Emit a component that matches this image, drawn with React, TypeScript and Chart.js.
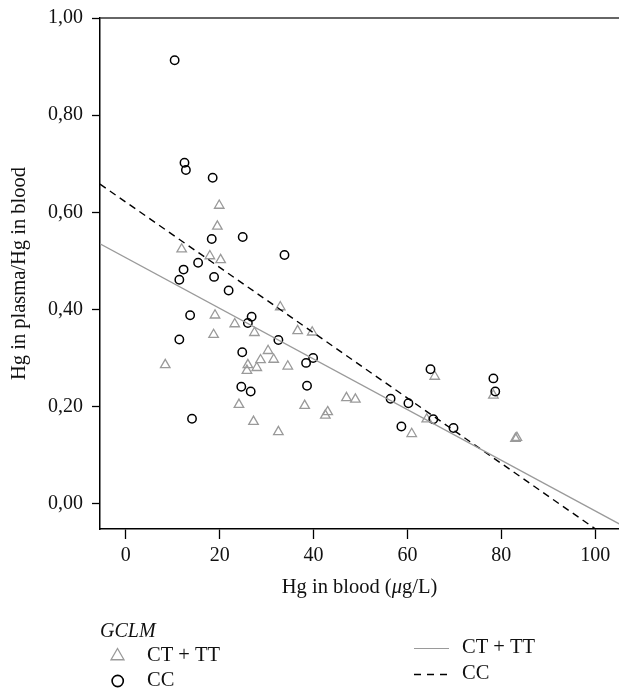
import React, { useEffect, useRef } from 'react';
import { Chart, registerables } from 'chart.js';

Chart.register(...registerables);

// GCLM CT + TT (triangles)
const ctttX = [19.9, 19.5, 11.9, 17.9, 20.2, 32.9, 19.0, 23.2, 27.4, 36.6, 39.7, 18.7, 30.3, 28.7, 31.5, 26.0, 27.9, 25.8, 34.5, 8.4, 24.1, 38.1, 47.0, 48.9, 43.0, 42.5, 27.2, 32.5, 65.8, 78.3, 64.1, 60.9, 83.0, 83.3];
const ctttY = [0.614, 0.571, 0.524, 0.510, 0.502, 0.405, 0.388, 0.370, 0.352, 0.356, 0.353, 0.348, 0.315, 0.296, 0.297, 0.286, 0.280, 0.274, 0.283, 0.286, 0.204, 0.202, 0.218, 0.215, 0.189, 0.182, 0.169, 0.148, 0.262, 0.223, 0.174, 0.144, 0.134, 0.136];

// GCLM CC (circles)
const ccX = [10.4, 12.5, 12.8, 18.5, 18.3, 24.9, 33.8, 12.3, 11.4, 15.4, 18.8, 21.9, 13.7, 26.8, 26.0, 11.4, 32.5, 24.8, 38.4, 39.9, 24.6, 26.6, 38.6, 14.1, 64.9, 78.3, 78.7, 56.4, 60.2, 65.5, 69.8, 58.7];
const ccY = [0.913, 0.702, 0.687, 0.671, 0.545, 0.549, 0.512, 0.482, 0.461, 0.496, 0.467, 0.439, 0.388, 0.385, 0.372, 0.338, 0.337, 0.312, 0.290, 0.300, 0.241, 0.231, 0.243, 0.175, 0.277, 0.258, 0.231, 0.216, 0.207, 0.174, 0.156, 0.159];

// Regression lines (end points)
const ctttLineX = [-5.5, 105.2];
const ctttLineY = [0.535, -0.042];
const ccLineX = [-5.5, 100.5];
const ccLineY = [0.658, -0.055];

const xTicks = [0, 20, 40, 60, 80, 100];
const xTickLabels = ['0', '20', '40', '60', '80', '100'];
const yTicks = [0, 0.2, 0.4, 0.6, 0.8, 1.0];

const xTitle = 'Hg in blood (';
const xTitleMu = 'μ';
const xTitleEnd = 'g/L)';
const yTitle = 'Hg in plasma/Hg in blood';
const legendTitle = 'GCLM';
const seriesNames = ['CT + TT', 'CC'];

const FONT = '"Liberation Serif", "Times New Roman", serif';
const GRAY = '#9a9a9a';
const W = 619;
const H = 692;

const zip = (xs: number[], ys: number[]) => xs.map((x, i) => ({ x, y: ys[i] }));

const textPlugin = {
  id: 'textPlugin',
  afterDraw(chart: any) {
    const { ctx, chartArea } = chart;
    const { left, right, top, bottom } = chartArea;
    const xs = chart.scales.x;
    ctx.save();
    // top border
    ctx.strokeStyle = '#333';
    ctx.lineWidth = 1.5;
    ctx.beginPath();
    ctx.moveTo(left, top);
    ctx.lineTo(right, top);
    ctx.stroke();

    ctx.fillStyle = '#111';
    ctx.textBaseline = 'middle';

    // x tick labels
    ctx.font = `20px ${FONT}`;
    ctx.textAlign = 'center';
    xTicks.forEach((v, i) => {
      ctx.fillText(xTickLabels[i], xs.getPixelForValue(v), bottom + 27);
    });

    // y title
    ctx.save();
    ctx.translate(20, (top + bottom) / 2);
    ctx.rotate(-Math.PI / 2);
    ctx.font = `20.5px ${FONT}`;
    ctx.textAlign = 'center';
    ctx.fillText(yTitle, 0, 0);
    ctx.restore();

    // x title with italic mu
    const cx = (left + Math.min(right, W)) / 2;
    const ty = 588;
    ctx.font = `20.5px ${FONT}`;
    const w1 = ctx.measureText(xTitle).width;
    const w3 = ctx.measureText(xTitleEnd).width;
    ctx.font = `italic 20.5px ${FONT}`;
    const w2 = ctx.measureText(xTitleMu).width;
    let sx = cx - (w1 + w2 + w3) / 2;
    ctx.textAlign = 'left';
    ctx.font = `20.5px ${FONT}`;
    ctx.fillText(xTitle, sx, ty);
    sx += w1;
    ctx.font = `italic 20.5px ${FONT}`;
    ctx.fillText(xTitleMu, sx, ty);
    sx += w2;
    ctx.font = `20.5px ${FONT}`;
    ctx.fillText(xTitleEnd, sx, ty);

    // left legend
    ctx.font = `italic 20px ${FONT}`;
    ctx.fillText(legendTitle, 100, 632);
    ctx.font = `20.5px ${FONT}`;
    ctx.fillText(seriesNames[0], 147, 656);
    ctx.fillText(seriesNames[1], 147, 681);
    // triangle marker
    ctx.strokeStyle = GRAY;
    ctx.lineWidth = 1.3;
    const tr = 7.5;
    const tcx = 117.5, tcy = 656;
    ctx.beginPath();
    ctx.moveTo(tcx, tcy - tr);
    ctx.lineTo(tcx + tr * 0.866, tcy + tr * 0.5);
    ctx.lineTo(tcx - tr * 0.866, tcy + tr * 0.5);
    ctx.closePath();
    ctx.stroke();
    // circle marker
    ctx.strokeStyle = '#000';
    ctx.lineWidth = 1.6;
    ctx.beginPath();
    ctx.arc(117.7, 681, 5.6, 0, Math.PI * 2);
    ctx.stroke();

    // right legend
    ctx.fillStyle = '#111';
    ctx.fillText(seriesNames[0], 462, 648);
    ctx.fillText(seriesNames[1], 462, 674);
    ctx.strokeStyle = GRAY;
    ctx.lineWidth = 1.2;
    ctx.beginPath();
    ctx.moveTo(414, 648.5);
    ctx.lineTo(449, 648.5);
    ctx.stroke();
    ctx.strokeStyle = '#000';
    ctx.lineWidth = 1.3;
    ctx.setLineDash([7, 6]);
    ctx.beginPath();
    ctx.moveTo(414, 674.5);
    ctx.lineTo(449, 674.5);
    ctx.stroke();
    ctx.restore();
  },
};

export default function App() {
  const canvasRef = useRef<HTMLCanvasElement | null>(null);

  useEffect(() => {
    if (!canvasRef.current) return;
    const chart = new Chart(canvasRef.current, {
      type: 'scatter',
      data: {
        datasets: [
          {
            label: 'CT + TT line',
            type: 'line',
            data: zip(ctttLineX, ctttLineY),
            borderColor: GRAY,
            borderWidth: 1.3,
            pointRadius: 0,
            fill: false,
          } as any,
          {
            label: 'CC line',
            type: 'line',
            data: zip(ccLineX, ccLineY),
            borderColor: '#000',
            borderWidth: 1.4,
            borderDash: [7, 5],
            pointRadius: 0,
            fill: false,
          } as any,
          {
            label: 'CC',
            data: zip(ccX, ccY),
            pointStyle: 'circle',
            pointRadius: 4.2,
            borderColor: '#000',
            borderWidth: 1.5,
            backgroundColor: 'rgba(0,0,0,0)',
          },
          {
            label: 'CT + TT',
            data: zip(ctttX, ctttY),
            pointStyle: 'triangle',
            pointRadius: 5.5,
            borderColor: GRAY,
            borderWidth: 1.3,
            backgroundColor: 'rgba(0,0,0,0)',
          },
        ],
      },
      options: {
        animation: false,
        responsive: false,
        maintainAspectRatio: false,
        devicePixelRatio: 1,
        layout: { padding: { top: 18, left: 0, right: 0, bottom: 0 } },
        plugins: {
          legend: { display: false },
          tooltip: { enabled: false },
        },
        scales: {
          x: {
            type: 'linear',
            min: -5.5,
            max: 105.1,
            afterFit: (s: any) => { s.height = 163; s.paddingLeft = 0; s.paddingRight = 0; },
            afterBuildTicks: (s: any) => { s.ticks = xTicks.map((v) => ({ value: v })); },
            ticks: {
              display: false,
              includeBounds: false,
              stepSize: 20,
            },
            grid: { drawOnChartArea: false, drawTicks: true, tickLength: 10, color: '#000', tickWidth: 1.3 },
            border: { color: '#000', width: 1.5 },
          },
          y: {
            type: 'linear',
            min: -0.052,
            max: 1.0,
            afterFit: (s: any) => { s.width = 100; s.paddingTop = 0; s.paddingBottom = 0; },
            afterBuildTicks: (s: any) => { s.ticks = yTicks.map((v) => ({ value: v })); },
            ticks: {
              includeBounds: false,
              stepSize: 0.2,
              color: '#111',
              font: { family: FONT, size: 20 },
              padding: 9,
              callback: (v: any) => Number(v).toFixed(2).replace('.', ','),
            },
            grid: { drawOnChartArea: false, tickLength: 8, color: '#000', tickWidth: 1.3 },
            border: { color: '#000', width: 1.5 },
          },
        },
      },
      plugins: [textPlugin],
    });
    // make the plot area reach the right edge of the figure (canvas is clipped by the outer box)
    let cw = W;
    for (let k = 0; k < 4; k++) {
      const gap = W - chart.chartArea.right;
      if (Math.abs(gap) < 0.5) break;
      cw += gap;
      chart.resize(Math.round(cw), H);
    }
    return () => chart.destroy();
  }, []);

  return (
    <div style={{ position: 'absolute', left: 0, top: 0, width: W, height: H, background: '#fff', overflow: 'hidden' }}>
      <div style={{ width: W + 60, height: H }}>
        <canvas ref={canvasRef} width={W} height={H} style={{ width: W, height: H, display: 'block' }} />
      </div>
    </div>
  );
}
